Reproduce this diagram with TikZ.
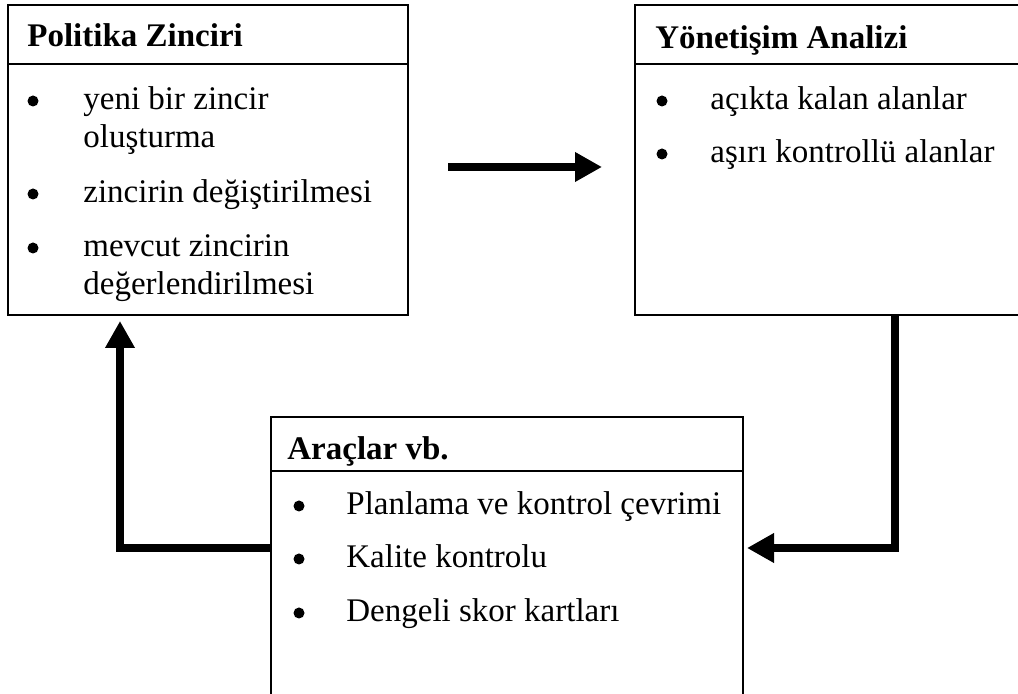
\documentclass[tikz,border=0pt]{standalone}
\usepackage{fontspec}
\setmainfont{Liberation Serif}
\usetikzlibrary{arrows.meta}
\begin{document}
\begin{tikzpicture}[
    x=0.5pt, y=-0.5pt,
    box/.style={draw, line width=1.3pt, inner sep=0pt, outer sep=0pt},
    title/.style={anchor=base west, inner sep=0pt, font=\fontsize{16.5}{19}\selectfont\bfseries},
    item/.style={anchor=base west, inner sep=0pt, align=left, font=\fontsize{16.5}{19}\selectfont},
    dot/.style={circle, fill, inner sep=0pt, minimum size=5.5pt},
    flow/.style={line width=4pt, -{Triangle[length=13.5pt, width=14pt]}}
    ]
    \useasboundingbox (0,0) rectangle (1018,694);
    % Boxes
    \node[box, minimum width=200pt, minimum height=155pt] (pol) at (208,160) {};
    \node[box, minimum width=193.5pt, minimum height=155pt] (yon) at (828.5,160) {};
    \node[box, minimum width=236pt, minimum height=141.5pt] (ara) at (507,558.5) {};
    \draw[line width=1.3pt] (pol.west |- 0,64) -- (pol.east |- 0,64);
    \draw[line width=1.3pt] (yon.west |- 0,64) -- (yon.east |- 0,64);
    \draw[line width=1.1pt] (ara.west |- 0,471) -- (ara.east |- 0,471);
    % Politika Zinciri
    \node[title] (polT) at (27,47) {Politika Zinciri};
    \node[dot] (polD1) at (33,101) {};
    \node[item] (polI1) at (83,148) {yeni bir zincir\\oluşturma};
    \node[dot] (polD2) at (33,194) {};
    \node[item] (polI2) at (83,203) {zincirin değiştirilmesi};
    \node[dot] (polD3) at (33,248) {};
    \node[item] (polI3) at (83,295) {mevcut zincirin\\değerlendirilmesi};
    % Yonetisim Analizi
    \node[title] (yonT) at (655,49) {Yönetişim Analizi};
    \node[dot] (yonD1) at (662,101) {};
    \node[item] (yonI1) at (710,110) {açıkta kalan alanlar};
    \node[dot] (yonD2) at (662,154) {};
    \node[item] (yonI2) at (710,163) {aşırı kontrollü alanlar};
    % Araclar vb.
    \node[title] (araT) at (287,460) {Araçlar vb.};
    \node[dot] (araD1) at (299,506) {};
    \node[item] (araI1) at (346,515) {Planlama ve kontrol çevrimi};
    \node[dot] (araD2) at (299,559) {};
    \node[item] (araI2) at (346,568) {Kalite kontrolu};
    \node[dot] (araD3) at (299,613) {};
    \node[item] (araI3) at (346,622) {Dengeli skor kartları};
    % Arrows
    \coordinate (midA) at (448,167);
    \coordinate (midB) at (602,167);
    \coordinate (rc) at (895,548);
    \coordinate (lc) at (120,548);
    \draw[flow] (midA) -- (midB);
    \draw[flow, shorten >=2pt] (yon.south -| rc) -- (rc) -- (ara.east |- rc);
    \draw[flow, shorten >=3pt] (ara.west |- lc) -- (lc) -- (pol.south -| lc);
\end{tikzpicture}
\end{document}
